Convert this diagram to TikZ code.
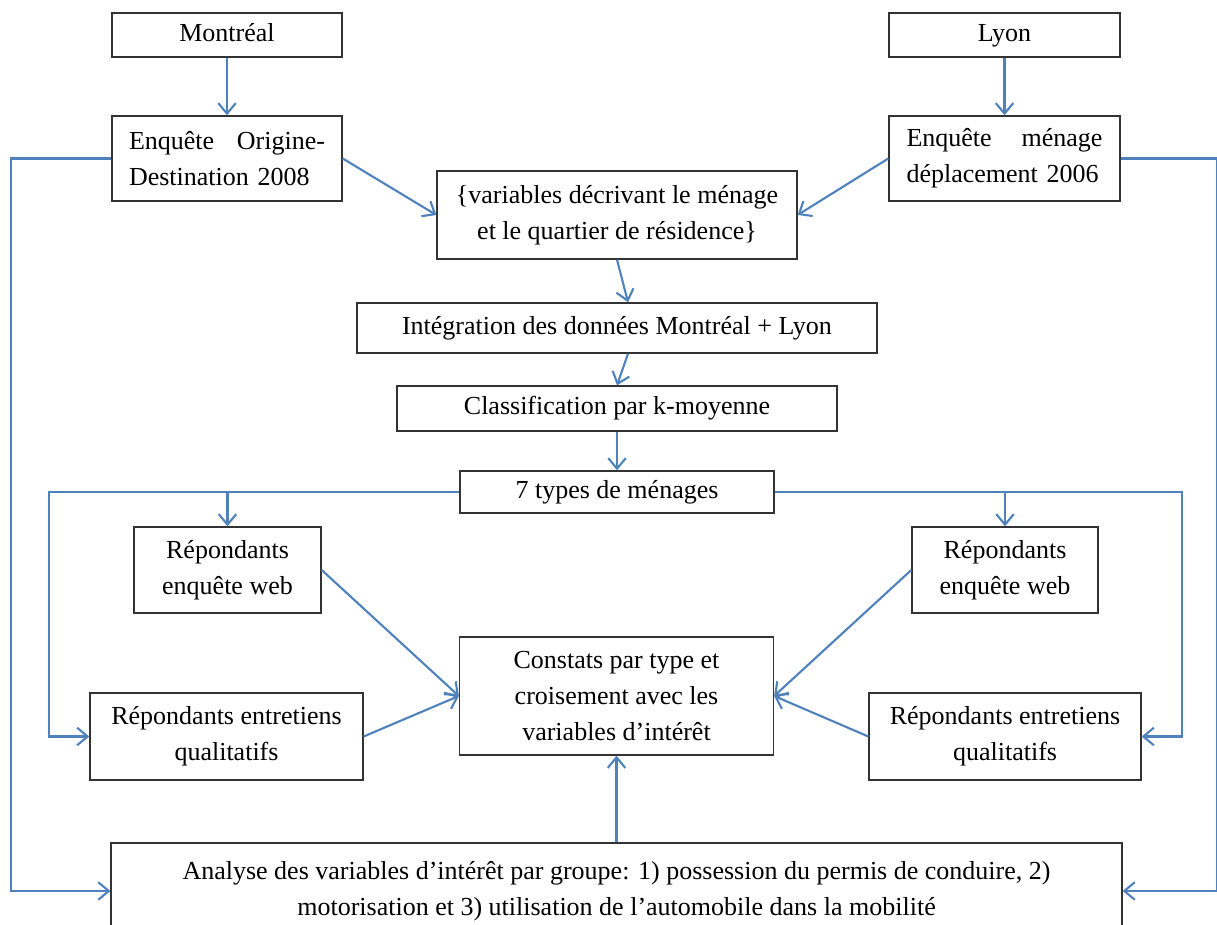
\documentclass[tikz,border=0pt]{standalone}
\usepackage{fontspec}
\setmainfont{Liberation Serif}
\usetikzlibrary{positioning, arrows.meta}

\definecolor{flowblue}{RGB}{79,129,189}

\tikzset{
    box/.style={draw=black!80, line width=0.8pt, inner sep=0pt, align=center,
        font=\fontsize{14.8}{20.5}\selectfont},
    single/.style={text height=10pt, text depth=3pt},
    flow/.style={draw=flowblue, line width=1.2pt, -{Straight Barb[length=6pt, width=10pt]}},
}

\begin{document}
\begin{tikzpicture}[x=0.02cm, y=-0.02cm]

        \newcommand{\jline}[3]{\makebox[3.92cm]{#1\hfill #2}\\#3}

        \useasboundingbox (0,0) rectangle (1217,925);

        % sources
        \node[box, single, minimum width=4.6cm, minimum height=0.88cm] (mtl) at (227,35) {Montréal};
        \node[box, single, minimum width=4.62cm, minimum height=0.88cm] (lyon) at (1004.5,35) {Lyon};
        \node[box, minimum width=4.6cm, minimum height=1.7cm, text width=3.92cm, align=left] (od) at (227,158.5)
            {\jline{Enquête}{Origine-}{Destination 2008}};
        \node[box, minimum width=4.62cm, minimum height=1.7cm, text width=3.92cm, align=left] (emd) at (1004.5,158.5)
            {\jline{Enquête}{ménage}{déplacement 2006}};

        % central chain
        \node[box, minimum width=7.2cm, minimum height=1.76cm] (var) at (617,215)
            {\{variables décrivant le ménage\\et le quartier de résidence\}};
        \node[box, single, minimum width=10.4cm, minimum height=1cm] (integ) at (617,328)
            {Intégration des données Montréal + Lyon};
        \node[box, single, minimum width=8.8cm, minimum height=0.9cm] (classif) at (617,408.5)
            {Classification par k-moyenne};
        \node[box, single, minimum width=6.28cm, minimum height=0.84cm] (types) at (617,492)
            {7 types de ménages};

        % respondents
        \node[box, minimum width=3.74cm, minimum height=1.72cm] (webL) at (227.5,570)
            {Répondants\\enquête web};
        \node[box, minimum width=3.72cm, minimum height=1.72cm] (webR) at (1005,570)
            {Répondants\\enquête web};
        \node[box, minimum width=5.46cm, minimum height=1.74cm] (qualL) at (226.5,736.5)
            {Répondants entretiens\\qualitatifs};
        \node[box, minimum width=5.44cm, minimum height=1.74cm] (qualR) at (1005,736.5)
            {Répondants entretiens\\qualitatifs};
        \node[box, minimum width=6.28cm, minimum height=2.36cm] (const) at (616.5,696)
            {Constats par type et\\croisement avec les\\variables d’intérêt};

        \node[box, minimum width=20.22cm, minimum height=1.92cm] (anal) at (616.5,891)
            {Analyse des variables d’intérêt par groupe: 1) possession du permis de conduire, 2)\\
             motorisation et 3) utilisation de l’automobile dans la mobilité};

        % arrows
        \draw[flow] (mtl) -- (od);
        \draw[flow] (lyon) -- (emd);
        \draw[flow] (od.east) -- (var.west);
        \draw[flow] (emd.west) -- (var.east);
        \draw[flow] (var.south) -- ([xshift=0.22cm]integ.north);
        \draw[flow] ([xshift=0.22cm]integ.south) -- (classif.north);
        \draw[flow] (classif) -- (types);

        \draw[flow] (types.west) -| ([xshift=-0.8cm]qualL.west) -- (qualL.west);
        \draw[flow] (types.east) -| ([xshift=0.8cm]qualR.east) -- (qualR.east);
        \draw[flow] (webL.north |- types.west) -- (webL.north);
        \draw[flow] (webR.north |- types.east) -- (webR.north);

        \draw[flow] (webL.east) -- (const.west);
        \draw[flow] (qualL.east) -- (const.west);
        \draw[flow] (webR.west) -- (const.east);
        \draw[flow] (qualR.west) -- (const.east);
        \draw[flow] (anal) -- (const);

        \draw[flow] (od.west) -| ([xshift=-1.98cm]anal.west) -- (anal.west);
        \draw[flow] (emd.east) -| ([xshift=1.88cm]anal.east) -- (anal.east);

    \end{tikzpicture}
\end{document}
